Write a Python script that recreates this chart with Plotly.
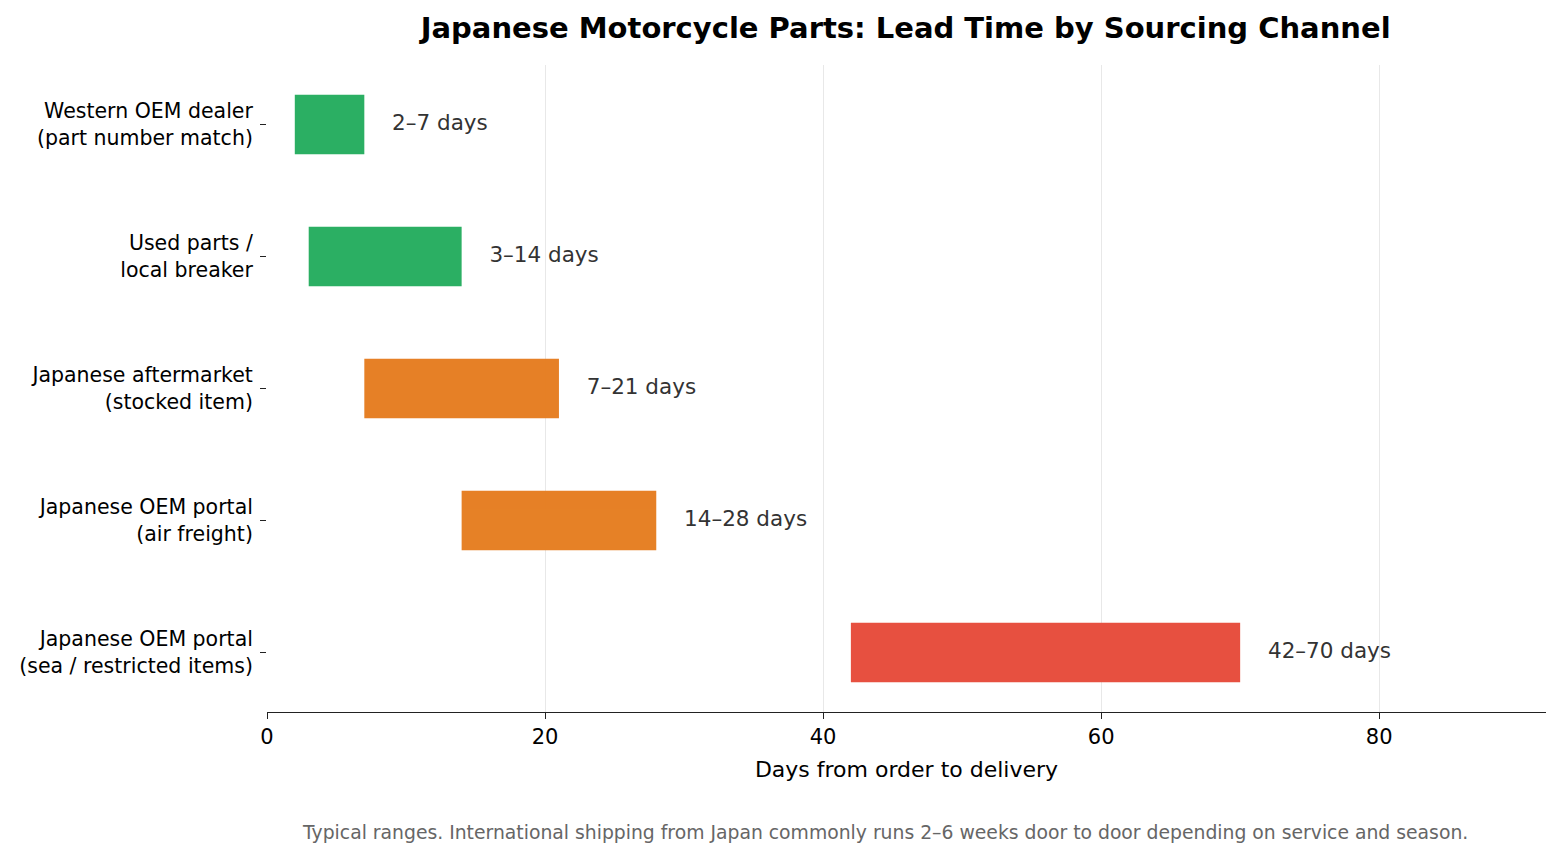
import plotly.graph_objects as go

# Canales de compra y plazos (días)
channels = [
    "Western OEM dealer<br>(part number match)",
    "Used parts /<br>local breaker",
    "Japanese aftermarket<br>(stocked item)",
    "Japanese OEM portal<br>(air freight)",
    "Japanese OEM portal<br>(sea / restricted items)",
]
min_days = [2, 3, 7, 14, 42]
max_days = [7, 14, 21, 28, 70]
colors = ["#27ae60", "#27ae60", "#e67e22", "#e67e22", "#e74c3c"]
x_ticks = [0, 20, 40, 60, 80]

pos = list(range(len(channels)))
spans = [b - a for a, b in zip(min_days, max_days)]
labels = [f"{a}–{b} days" for a, b in zip(min_days, max_days)]

fig = go.Figure()
fig.add_trace(go.Bar(
    y=pos,
    x=spans,
    base=min_days,
    orientation="h",
    width=0.45,
    marker=dict(color=colors, line=dict(width=0)),
    opacity=0.98,
    hoverinfo="skip",
))
# etiquetas a la derecha de cada barra
fig.add_trace(go.Scatter(
    y=pos,
    x=[b + 2 for b in max_days],
    mode="text",
    text=labels,
    textposition="middle right",
    textfont=dict(size=21.5, color="#333333"),
    hoverinfo="skip",
))

# la página tiene 8px de margen en el body
fig.update_layout(
    width=1545,
    height=841,
    autosize=False,
    template="plotly_white",
    showlegend=False,
    font=dict(family="DejaVu Sans", color="black"),
    paper_bgcolor="white",
    plot_bgcolor="white",
    margin=dict(l=259, r=7, t=57, b=137, autoexpand=False),
    title=dict(
        text="<b>Japanese Motorcycle Parts: Lead Time by Sourcing Channel</b>",
        x=0.581, xanchor="center", y=0.976, yanchor="middle",
        font=dict(size=29, color="black"),
    ),
    xaxis=dict(
        range=[0, 92],
        tickvals=x_ticks,
        showgrid=True,
        gridcolor="#e8e8e8",
        gridwidth=1,
        zeroline=False,
        showline=True,
        linecolor="#222222",
        linewidth=1.3,
        ticks="outside",
        ticklen=6,
        tickwidth=1.3,
        tickcolor="#222222",
        tickfont=dict(size=21),
        title=dict(text="Days from order to delivery", font=dict(size=22), standoff=13),
    ),
    yaxis=dict(
        range=[4.45, -0.45],
        tickvals=pos,
        ticktext=channels,
        showgrid=False,
        zeroline=False,
        showline=False,
        ticks="outside",
        ticklen=6,
        tickwidth=1.3,
        tickcolor="#222222",
        ticklabelstandoff=3,
        tickfont=dict(size=20.5),
    ),
    annotations=[dict(
        text="Typical ranges. International shipping from Japan commonly runs 2–6 weeks door to door depending on service and season.",
        xref="paper", yref="paper",
        x=0.483, y=-0.187, xanchor="center", yanchor="middle",
        showarrow=False,
        font=dict(size=18.8, color="#666666"),
    )],
)

fig.write_html("out.html")
